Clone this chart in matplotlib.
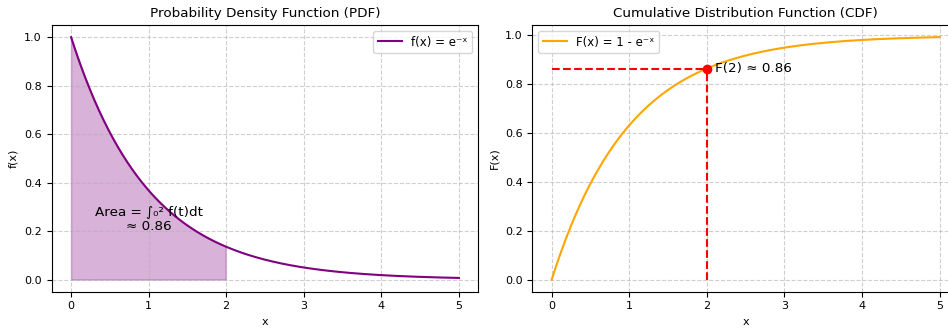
import numpy as np
import matplotlib.pyplot as plt

x_min, x_max = 0, 5
x_mark = 2
area_label = 'Area = \u222b\u2080\u00b2 f(t)dt\n\u2248 0.86'
cdf_label = 'F(2) \u2248 0.86'

x = np.linspace(x_min, x_max, 500)
pdf = np.exp(-x)
cdf = 1 - np.exp(-x)
F2 = 1 - np.exp(-x_mark)

fig = plt.figure(figsize=(9.48, 3.29), dpi=100)
# the reference is cropped on the right, so the second panel runs past the edge
ax1 = fig.add_axes([0.0545, 0.1134, 0.45, 0.8106])
ax2 = fig.add_axes([0.5615, 0.1134, 0.45, 0.8106])

# PDF
ax1.plot(x, pdf, color='purple', label='f(x) = e\u207b\u02e3')
xs = x[x <= x_mark]
ax1.fill_between(xs, np.exp(-xs), color='purple', alpha=0.3)
ax1.text(1, 0.25, area_label, ha='center', va='center', fontsize=9.7)
ax1.set_title('Probability Density Function (PDF)', fontsize=9.7)
ax1.set_xlabel('x', fontsize=8)
ax1.set_ylabel('f(x)', fontsize=8)
ax1.tick_params(labelsize=8)
ax1.grid(True, linestyle='--', alpha=0.6)
ax1.legend(fontsize=8.5, loc='upper right')

# CDF
ax2.plot(x, cdf, color='orange', label='F(x) = 1 - e\u207b\u02e3')
ax2.plot([x_mark, x_mark], [0, F2], 'r--')
ax2.plot([0, x_mark], [F2, F2], 'r--')
ax2.plot(x_mark, F2, 'ro', markersize=6)
ax2.text(x_mark + 0.1, F2, cdf_label, va='center', fontsize=9.7)
ax2.set_title('Cumulative Distribution Function (CDF)', fontsize=9.7)
ax2.set_xlabel('x', fontsize=8)
ax2.set_ylabel('F(x)', fontsize=8)
ax2.tick_params(labelsize=8)
ax2.grid(True, linestyle='--', alpha=0.6)
ax2.legend(fontsize=8.5, loc='upper left')

plt.savefig('out.png', dpi=100)
